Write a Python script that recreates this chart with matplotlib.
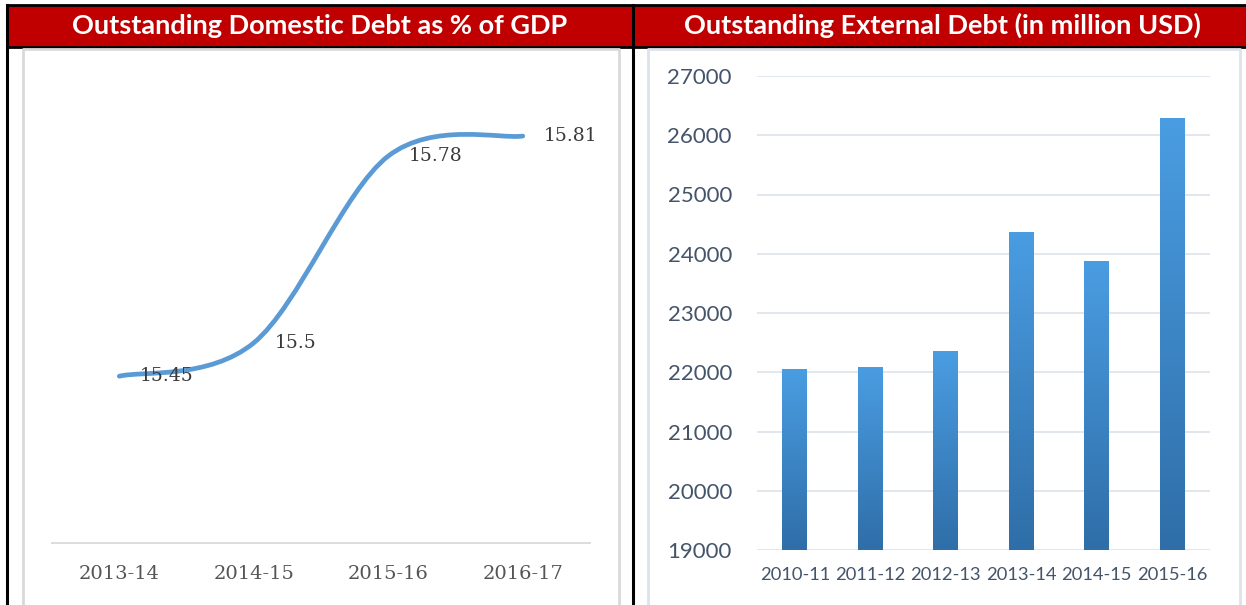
import numpy as np
import matplotlib.pyplot as plt
from matplotlib.patches import Rectangle, PathPatch
from matplotlib.path import Path
from matplotlib.colors import LinearSegmentedColormap

# Data
dom_years = ['2013-14', '2014-15', '2015-16', '2016-17']
dom_debt = [15.45, 15.5, 15.78, 15.81]  # % of GDP

ext_years = ['2010-11', '2011-12', '2012-13', '2013-14', '2014-15', '2015-16']
ext_debt = [22060, 22090, 22360, 24370, 23880, 26290]  # million USD

W, H = 1246, 605
fig = plt.figure(figsize=(W / 100, H / 100), dpi=100)

# background frame drawn in pixel coordinates
bg = fig.add_axes([0, 0, 1, 1])
bg.set_xlim(0, W)
bg.set_ylim(H, 0)
bg.axis('off')
red = '#C00000'
bg.add_patch(Rectangle((8, 6), W - 8, 40, color=red, zorder=1))
bg.plot([7, W], [5, 5], color='black', lw=2, zorder=2)
bg.plot([7, W], [46.5, 46.5], color='black', lw=2, zorder=2)
bg.plot([7, 7], [5, H], color='black', lw=2.2, zorder=2)
bg.plot([633, 633], [5, H], color='black', lw=2.2, zorder=2)
# inner light frames
bg.plot([23, 23, 619, 619], [H, 48.5, 48.5, H], color='#D9D9D9', lw=2)
bg.plot([648, 648, 1240, 1240], [H, 48.5, 48.5, H], color='#DDE3EA', lw=2)

title_kw = dict(color='white', fontsize=19.5, fontweight='bold', family='Lato',
                ha='center', va='center', zorder=3)
bg.text(320, 25.5, 'Outstanding Domestic Debt as % of GDP', **title_kw)
bg.text(942, 25.5, 'Outstanding External Debt (in million USD)', **title_kw)

# ---- Left: smoothed line ----
ax1 = fig.add_axes([52 / W, (H - 543) / H, 538 / W, 467 / H])
x = np.arange(len(dom_years))
y = np.array(dom_debt)
# bezier control points (Catmull-Rom style smoothing like Excel)
pts = np.column_stack([x, y])
verts = [tuple(pts[0])]
codes = [Path.MOVETO]
for i in range(len(pts) - 1):
    p0 = pts[i - 1] if i > 0 else pts[i]
    p1, p2 = pts[i], pts[i + 1]
    p3 = pts[i + 2] if i + 2 < len(pts) else pts[i + 1]
    c1 = p1 + (p2 - p0) / 6
    c2 = p2 - (p3 - p1) / 6
    verts += [tuple(c1), tuple(c2), tuple(p2)]
    codes += [Path.CURVE4] * 3
ax1.add_patch(PathPatch(Path(verts, codes), fill=False, edgecolor='#5B9BD5',
                        lw=3.4, capstyle='round'))
for xi, yi in zip(x, y):
    ax1.annotate(f'{yi:g}', (xi, yi), xytext=(15, 0), textcoords='offset points',
                 ha='left', va='center', fontsize=13.5, color='#3A3A3A',
                 family='DejaVu Serif')
ax1.set_xlim(-0.5, len(dom_years) - 0.5)
ax1.set_ylim(15.2, 15.9)
ax1.set_xticks(x)
ax1.set_xticklabels(dom_years, fontsize=14, color='#555555', family='DejaVu Serif')
ax1.tick_params(axis='x', length=0, pad=16)
ax1.set_yticks([])
for s in ['top', 'left', 'right']:
    ax1.spines[s].set_visible(False)
ax1.spines['bottom'].set_color('#D9D9D9')
ax1.spines['bottom'].set_linewidth(1.3)
ax1.patch.set_alpha(0)

# ---- Right: bar chart with gradient ----
ax2 = fig.add_axes([757 / W, (H - 550) / H, 453 / W, 474 / H])
xb = np.arange(len(ext_years))
bars = ax2.bar(xb, ext_debt, width=0.33, color='#3A80C4', zorder=2)
grad = np.linspace(0, 1, 256).reshape(-1, 1)
cmap = LinearSegmentedColormap.from_list('g', ['#2F6EA8', '#4A9DE2'])
for b in bars:
    bx, bw, bh = b.get_x(), b.get_width(), b.get_height()
    im = ax2.imshow(grad, cmap=cmap, aspect='auto', origin='lower',
                    extent=(bx, bx + bw, 19000, bh), zorder=3)
    im.set_clip_path(b)
ax2.set_xlim(-0.5, len(ext_years) - 0.5)
ax2.set_ylim(19000, 27000)
ax2.set_yticks(np.arange(19000, 27001, 1000))
ax2.set_xticks(xb)
ax2.set_xticklabels(ext_years, fontsize=13.2, color='#44546A', family='Lato')
ax2.tick_params(axis='y', length=0, pad=18, labelsize=16, labelcolor='#44546A')
for lbl in ax2.get_yticklabels():
    lbl.set_family('Lato')
ax2.tick_params(axis='x', length=0, pad=12)
ax2.grid(axis='y', color='#DDE3EA', lw=1.2, zorder=0)
for s in ax2.spines.values():
    s.set_visible(False)
ax2.patch.set_alpha(0)

fig.savefig('out.png', dpi=100)
